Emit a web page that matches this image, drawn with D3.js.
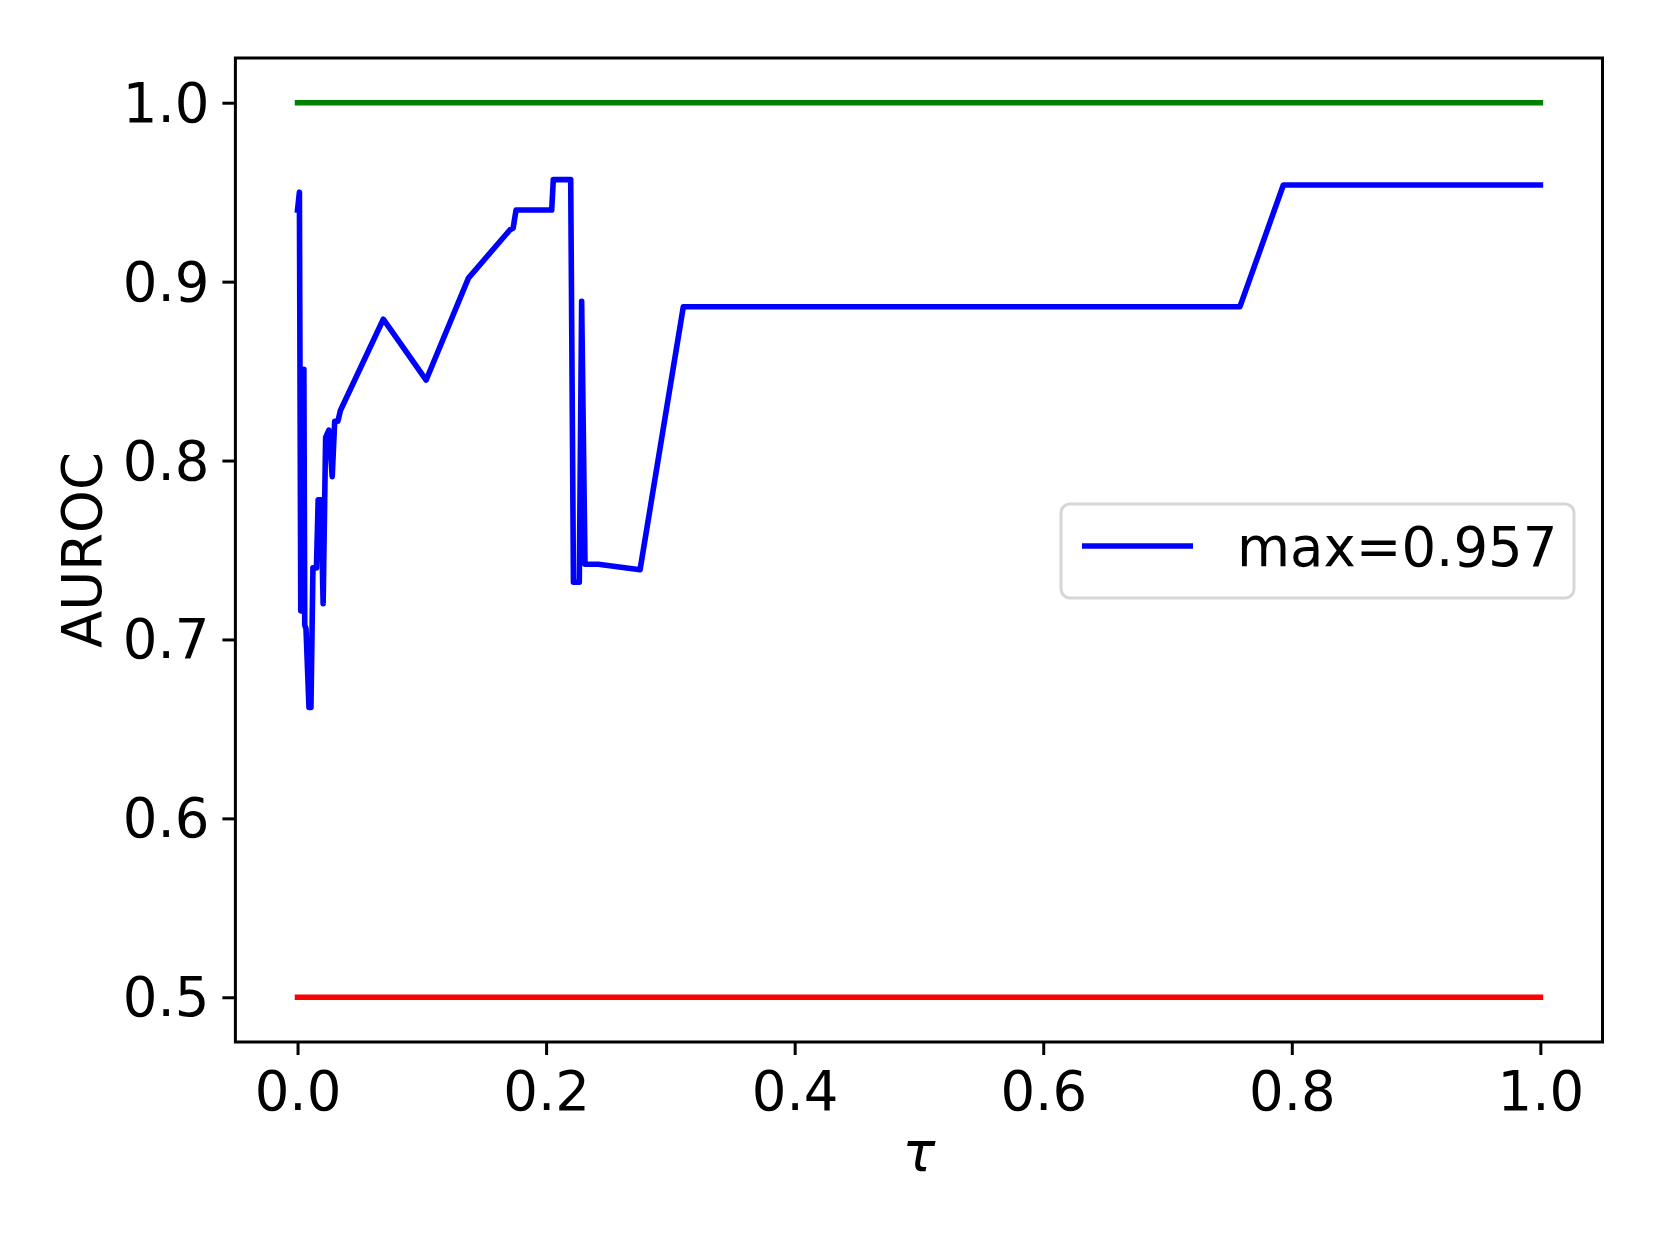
<!DOCTYPE html>
<html>
<head>
<meta charset="utf-8">
<script src="https://cdn.jsdelivr.net/npm/d3@7"></script>
<style>
  body { margin: 0; background: #fff; }
  text { font-family: "DejaVu Sans", sans-serif; fill: #000; }
</style>
</head>
<body>
<div id="main"></div>
<script>
// valores
const tau = [0, 0.0015, 0.0026, 0.0042, 0.0051, 0.0058, 0.0068, 0.0092, 0.0108, 0.0124,
  0.0152, 0.0166, 0.0188, 0.0206, 0.0226, 0.0252, 0.0279, 0.0299, 0.0325, 0.0345,
  0.069, 0.1035, 0.1375, 0.171, 0.1735, 0.1758, 0.2045, 0.2058, 0.2198, 0.222,
  0.2267, 0.2286, 0.2313, 0.242, 0.2756, 0.3104, 0.7583, 0.7932, 1.0];
const auroc = [0.940, 0.950, 0.716, 0.716, 0.851, 0.708, 0.706, 0.662, 0.662, 0.740,
  0.740, 0.778, 0.778, 0.720, 0.813, 0.817, 0.791, 0.822, 0.822, 0.828,
  0.879, 0.845, 0.902, 0.929, 0.930, 0.940, 0.940, 0.957, 0.957, 0.732,
  0.732, 0.889, 0.742, 0.742, 0.739, 0.886, 0.886, 0.954, 0.954];
const refTau = [0, 1];
const perfect = [1.0, 1.0];
const random = [0.5, 0.5];
const xTicks = [0, 0.2, 0.4, 0.6, 0.8, 1.0];
const yTicks = [0.5, 0.6, 0.7, 0.8, 0.9, 1.0];
const legendLabel = 'max=0.957';

const width = 1660, height = 1245;
const mLeft = 235.4, mRight = 1602.5, mTop = 58, mBottom = 1042;
const fontSize = 54.5;

const svg = d3.select('#main').append('svg')
    .attr('width', width)
    .attr('height', height);

const xScale = d3.scaleLinear().domain([-0.05, 1.05]).range([mLeft, mRight]);
const yScale = d3.scaleLinear().domain([0.475, 1.025]).range([mBottom, mTop]);

const line = d3.line()
    .x(d => xScale(d[0]))
    .y(d => yScale(d[1]));

function drawSeries(xs, ys, color) {
  svg.append('path')
      .datum(xs.map((x, i) => [x, ys[i]]))
      .attr('fill', 'none')
      .attr('stroke', color)
      .attr('stroke-width', 5.6)
      .attr('stroke-linejoin', 'round')
      .attr('stroke-linecap', 'square')
      .attr('d', line);
}

drawSeries(tau, auroc, '#0000ff');
drawSeries(refTau, perfect, '#008000');
drawSeries(refTau, random, '#ff0000');

// eixos
const xAxis = svg.append('g')
    .attr('transform', `translate(0,${mBottom})`)
    .call(d3.axisBottom(xScale).tickValues(xTicks).tickFormat(d3.format('.1f'))
      .tickSize(13).tickPadding(13).tickSizeOuter(0));
const yAxis = svg.append('g')
    .attr('transform', `translate(${mLeft},0)`)
    .call(d3.axisLeft(yScale).tickValues(yTicks).tickFormat(d3.format('.1f'))
      .tickSize(13).tickPadding(13).tickSizeOuter(0));

[xAxis, yAxis].forEach(g => {
  g.select('.domain').remove();
  g.selectAll('.tick line').attr('stroke', '#000').attr('stroke-width', 3);
  g.selectAll('.tick text')
      .style('font-family', '"DejaVu Sans", sans-serif')
      .style('font-size', fontSize + 'px')
      .attr('fill', '#000');
});
xAxis.selectAll('.tick text').attr('dy', null).attr('y', 68)
    .attr('dominant-baseline', 'alphabetic');
yAxis.selectAll('.tick text').attr('dy', '0.34em');

// moldura
svg.append('rect')
    .attr('x', mLeft).attr('y', mTop)
    .attr('width', mRight - mLeft).attr('height', mBottom - mTop)
    .attr('fill', 'none')
    .attr('stroke', '#000')
    .attr('stroke-width', 3);

// labels
svg.append('text')
    .attr('transform', `translate(101,${(mTop + mBottom) / 2}) rotate(-90)`)
    .attr('text-anchor', 'middle')
    .style('font-size', fontSize + 'px')
    .text('AUROC');

svg.append('text')
    .attr('x', (mLeft + mRight) / 2)
    .attr('y', 1171)
    .attr('text-anchor', 'middle')
    .style('font-size', fontSize + 'px')
    .style('font-style', 'italic')
    .text('τ');

// legenda
const legend = svg.append('g');
legend.append('rect')
    .attr('x', 1061).attr('y', 504)
    .attr('width', 513).attr('height', 94)
    .attr('rx', 9)
    .attr('fill', 'rgba(255,255,255,0.8)')
    .attr('stroke', '#d6d6d6')
    .attr('stroke-width', 3);
legend.append('line')
    .attr('x1', 1082).attr('x2', 1193)
    .attr('y1', 546).attr('y2', 546)
    .attr('stroke', '#0000ff')
    .attr('stroke-width', 5.6);
legend.append('text')
    .attr('x', 1237).attr('y', 566)
    .style('font-size', fontSize + 'px')
    .text(legendLabel);
</script>
</body>
</html>
